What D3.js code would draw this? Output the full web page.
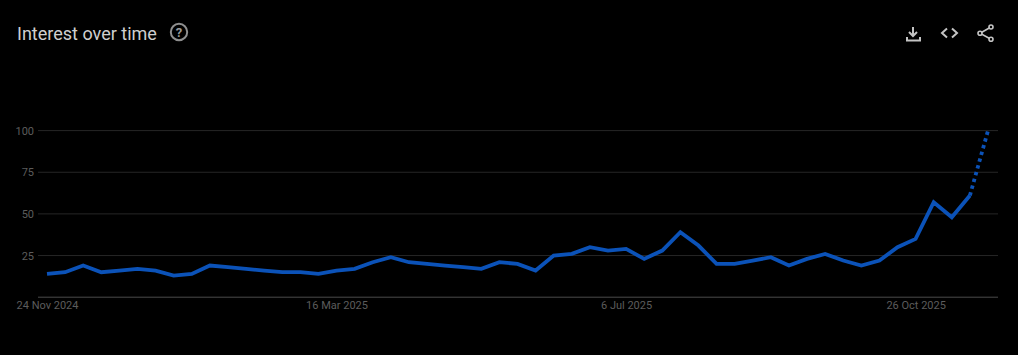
<!DOCTYPE html>
<html>
<head>
<meta charset="utf-8">
<script src="https://cdn.jsdelivr.net/npm/d3@7"></script>
<style>
  html, body { margin: 0; background: #000; overflow: hidden; }
  .tick text { font-family: Roboto, sans-serif; font-size: 11px; }
</style>
</head>
<body>
<div id="chart"></div>
<script>
const width = 1018;
const height = 355;

// weekly values, first week is 24 Nov 2024, last one is partial
const startDate = "2024-11-24";
const values = [
    14, 15, 19, 15, 16, 17, 16, 13, 14, 19,
    18, 17, 16, 15, 15, 14, 16, 17, 21, 24,
    21, 20, 19, 18, 17, 21, 20, 16, 25, 26,
    30, 28, 29, 23, 28, 39, 31, 20, 20, 22,
    24, 19, 23, 26, 22, 19, 22, 30, 35, 57,
    48, 61, 100
];
const yTicks = [25, 50, 75, 100];
const xTickDates = ["2024-11-24", "2025-03-16", "2025-07-06", "2025-10-26"];

const parseDate = d3.utcParse("%Y-%m-%d");
const formatDate = d3.utcFormat("%-d %b %Y");

const points = values.map((v, i) => ({
    date: d3.utcDay.offset(parseDate(startDate), i * 7),
    value: v
}));

const svg = d3.select("#chart").append("svg")
    .attr("width", width)
    .attr("height", height)
    .style("display", "block");

const xScale = d3.scaleUtc()
    .domain(d3.extent(points, d => d.date))
    .range([47, 988]);

const yScale = d3.scaleLinear()
    .domain([0, 100])
    .range([297.2, 130.6]);

// gridlines and y labels
const yAxis = svg.append("g")
    .attr("transform", "translate(38,0)")
    .call(d3.axisLeft(yScale).tickValues(yTicks).tickSize(0).tickPadding(4).offset(0));
yAxis.select(".domain").remove();
yAxis.selectAll(".tick text")
    .attr("fill", "#5c5c5c")
    .attr("y", 0.7);
yAxis.selectAll(".tick line")
    .attr("x2", 960)
    .attr("stroke", "#262626");

// baseline and x labels
const xAxis = svg.append("g")
    .attr("transform", "translate(0,297.2)")
    .call(d3.axisBottom(xScale)
        .tickValues(xTickDates.map(parseDate))
        .tickFormat(formatDate)
        .tickSize(0)
        .tickPadding(4)
        .offset(0));
xAxis.select(".domain")
    .attr("d", "M38,0H998")
    .attr("stroke", "#4a4a4a");
xAxis.selectAll(".tick text")
    .attr("fill", "#5c5c5c")
    .attr("dx", 0.5);

const line = d3.line()
    .x(d => xScale(d.date))
    .y(d => yScale(d.value));

// complete weeks solid, the partial week dotted
svg.append("path")
    .attr("d", line(points.slice(0, -1)))
    .attr("fill", "none")
    .attr("stroke", "#0b52b8")
    .attr("stroke-width", 3.8)
    .attr("stroke-linejoin", "miter");

svg.append("path")
    .attr("d", line(points.slice(-2)))
    .attr("fill", "none")
    .attr("stroke", "#0b52b8")
    .attr("stroke-width", 3.8)
    .attr("stroke-dasharray", "3.5,3.5");

// header
svg.append("text")
    .attr("x", 17)
    .attr("y", 40)
    .attr("fill", "#cfcfcf")
    .attr("font-family", "Roboto, sans-serif")
    .attr("font-size", 18)
    .text("Interest over time");

const iconColor = "#c4c4c4";

const help = svg.append("g").attr("transform", "translate(179,32)");
help.append("circle")
    .attr("r", 8.2)
    .attr("fill", "none")
    .attr("stroke", "#8f8f8f")
    .attr("stroke-width", 2);
help.append("text")
    .attr("text-anchor", "middle")
    .attr("y", 4.8)
    .attr("fill", "#9a9a9a")
    .attr("font-family", "Roboto, sans-serif")
    .attr("font-weight", 700)
    .attr("font-size", 13)
    .text("?");

// download
svg.append("path")
    .attr("transform", "translate(901,21)")
    .attr("d", "M12 6v9M8 11l4 4 4-4M6 16v3.5h13v-3.5")
    .attr("fill", "none")
    .attr("stroke", iconColor)
    .attr("stroke-width", 2);

// embed
svg.append("path")
    .attr("transform", "translate(937.5,21)")
    .attr("d", "M9.5 7.5l-5 4.5 5 4.5M14.5 7.5l5 4.5-5 4.5")
    .attr("fill", "none")
    .attr("stroke", iconColor)
    .attr("stroke-width", 2);

// share
const share = svg.append("g").attr("transform", "translate(973,21)");
share.append("path")
    .attr("d", "M18 6L7 12.3l11 6")
    .attr("fill", "none")
    .attr("stroke", iconColor)
    .attr("stroke-width", 1.6);
share.selectAll("circle")
    .data([[18, 6], [7, 12.3], [18, 18.3]])
    .enter()
    .append("circle")
    .attr("cx", d => d[0])
    .attr("cy", d => d[1])
    .attr("r", 2)
    .attr("fill", "#000")
    .attr("stroke", iconColor)
    .attr("stroke-width", 1.6);
</script>
</body>
</html>
